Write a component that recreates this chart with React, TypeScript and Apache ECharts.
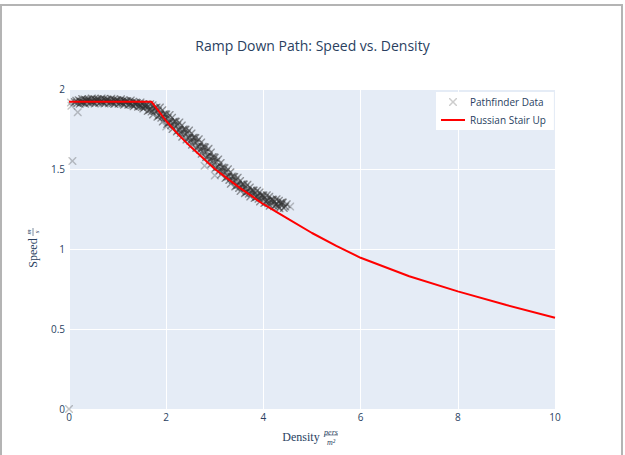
import React, { useEffect, useRef } from 'react';
import * as echarts from 'echarts';

const titleText = 'Ramp Down Path: Speed vs. Density';
const seriesNames = ['Pathfinder Data', 'Russian Stair Up'];
const xTickStep = 2;
const yTickStep = 0.5;

const russianDensity = [0, 1.7, 2.0, 2.25, 2.5, 2.75, 3.0, 3.5, 4.0, 4.5, 5.0, 5.5, 6.0, 7.0, 8.0, 9.0, 10.0];
const russianSpeed = [1.92, 1.92, 1.80, 1.715, 1.64, 1.57, 1.50, 1.385, 1.28, 1.19, 1.10, 1.02, 0.945, 0.83, 0.735, 0.65, 0.57];

const pathfinderOutliers: [number, number][] = [
  [0.0, 0.0], [0.07, 1.55], [0.18, 1.855], [0.05, 1.895], [0.04, 1.915],
  [2.0, 1.765], [2.79, 1.52], [3.0, 1.46], [4.55, 1.265],
];

const pathfinderBand: [number, number][] = [
  [0.12, 1.918], [0.15, 1.926], [0.17, 1.912],
  [0.20, 1.930], [0.22, 1.908], [0.23, 1.924], [0.25, 1.915], [0.27, 1.937], [0.28, 1.919],
  [0.30, 1.914], [0.32, 1.935], [0.33, 1.908], [0.35, 1.929], [0.37, 1.922], [0.38, 1.932],
  [0.40, 1.934], [0.42, 1.912], [0.43, 1.928], [0.45, 1.918], [0.47, 1.940], [0.48, 1.922],
  [0.50, 1.917], [0.52, 1.938], [0.53, 1.910], [0.55, 1.931], [0.57, 1.924], [0.58, 1.934],
  [0.60, 1.935], [0.62, 1.913], [0.63, 1.929], [0.65, 1.919], [0.67, 1.941], [0.68, 1.923],
  [0.70, 1.916], [0.72, 1.937], [0.73, 1.909], [0.75, 1.930], [0.77, 1.923], [0.78, 1.933],
  [0.80, 1.933], [0.82, 1.911], [0.83, 1.927], [0.85, 1.917], [0.87, 1.939], [0.88, 1.921],
  [0.90, 1.913], [0.92, 1.934], [0.93, 1.906], [0.95, 1.927], [0.97, 1.920], [0.98, 1.930],
  [1.00, 1.930], [1.02, 1.908], [1.03, 1.924], [1.05, 1.914], [1.07, 1.936], [1.08, 1.918],
  [1.10, 1.909], [1.12, 1.930], [1.13, 1.902], [1.15, 1.923], [1.17, 1.915], [1.18, 1.925],
  [1.20, 1.923], [1.22, 1.901], [1.23, 1.917], [1.25, 1.906], [1.27, 1.928], [1.28, 1.910],
  [1.30, 1.900], [1.32, 1.920], [1.33, 1.892], [1.35, 1.913], [1.37, 1.905], [1.38, 1.915],
  [1.40, 1.912], [1.42, 1.889], [1.43, 1.905], [1.45, 1.894], [1.47, 1.916], [1.48, 1.897],
  [1.50, 1.887], [1.52, 1.906], [1.53, 1.878], [1.55, 1.898], [1.57, 1.889], [1.58, 1.898],
  [1.60, 1.904], [1.62, 1.863], [1.63, 1.890], [1.65, 1.869], [1.67, 1.905], [1.68, 1.873],
  [1.70, 1.859], [1.72, 1.898], [1.73, 1.841], [1.75, 1.879], [1.77, 1.863], [1.78, 1.881],
  [1.80, 1.885], [1.82, 1.826], [1.83, 1.864], [1.85, 1.835], [1.87, 1.884], [1.88, 1.839],
  [1.90, 1.820], [1.92, 1.867], [1.93, 1.797], [1.95, 1.842], [1.97, 1.821], [1.98, 1.842],
  [2.00, 1.840], [2.02, 1.781], [2.03, 1.818], [2.05, 1.789], [2.07, 1.838], [2.08, 1.792],
  [2.10, 1.773], [2.12, 1.820], [2.13, 1.750], [2.15, 1.795], [2.17, 1.775], [2.18, 1.797],
  [2.20, 1.795], [2.22, 1.735], [2.23, 1.773], [2.25, 1.743], [2.27, 1.791], [2.28, 1.745],
  [2.30, 1.725], [2.32, 1.772], [2.33, 1.702], [2.35, 1.747], [2.37, 1.726], [2.38, 1.747],
  [2.40, 1.745], [2.42, 1.685], [2.43, 1.723], [2.45, 1.693], [2.47, 1.741], [2.48, 1.695],
  [2.50, 1.675], [2.52, 1.722], [2.53, 1.651], [2.55, 1.696], [2.57, 1.674], [2.58, 1.695],
  [2.60, 1.693], [2.62, 1.632], [2.63, 1.670], [2.65, 1.639], [2.67, 1.686], [2.68, 1.641],
  [2.70, 1.620], [2.72, 1.666], [2.73, 1.595], [2.75, 1.639], [2.77, 1.617], [2.78, 1.638],
  [2.80, 1.635], [2.82, 1.574], [2.83, 1.610], [2.85, 1.579], [2.87, 1.626], [2.88, 1.579],
  [2.90, 1.558], [2.92, 1.603], [2.93, 1.532], [2.95, 1.575], [2.97, 1.553], [2.98, 1.574],
  [3.00, 1.570], [3.02, 1.508], [3.03, 1.545], [3.05, 1.513], [3.07, 1.560], [3.08, 1.514],
  [3.10, 1.492], [3.12, 1.538], [3.13, 1.466], [3.15, 1.510], [3.17, 1.488], [3.18, 1.508],
  [3.20, 1.505], [3.22, 1.444], [3.23, 1.482], [3.25, 1.451], [3.27, 1.498], [3.28, 1.453],
  [3.30, 1.432], [3.32, 1.479], [3.33, 1.408], [3.35, 1.453], [3.37, 1.431], [3.38, 1.452],
  [3.40, 1.450], [3.42, 1.390], [3.43, 1.428], [3.45, 1.398], [3.47, 1.446], [3.48, 1.400],
  [3.50, 1.382], [3.52, 1.425], [3.53, 1.362], [3.55, 1.403], [3.57, 1.384], [3.58, 1.404],
  [3.60, 1.403], [3.62, 1.349], [3.63, 1.384], [3.65, 1.357], [3.67, 1.401], [3.68, 1.361],
  [3.70, 1.346], [3.72, 1.385], [3.73, 1.328], [3.75, 1.365], [3.77, 1.348], [3.78, 1.366],
  [3.80, 1.365], [3.82, 1.318], [3.83, 1.348], [3.85, 1.325], [3.87, 1.364], [3.88, 1.329],
  [3.90, 1.314], [3.92, 1.353], [3.93, 1.297], [3.95, 1.334], [3.97, 1.318], [3.98, 1.336],
  [4.00, 1.335], [4.02, 1.288], [4.03, 1.319], [4.05, 1.296], [4.07, 1.336], [4.08, 1.301],
  [4.10, 1.286], [4.12, 1.326], [4.13, 1.270], [4.15, 1.307], [4.17, 1.292], [4.18, 1.310],
  [4.20, 1.308], [4.22, 1.267], [4.23, 1.295], [4.25, 1.275], [4.27, 1.311], [4.28, 1.280],
  [4.30, 1.267], [4.32, 1.302], [4.33, 1.254], [4.35, 1.288], [4.37, 1.276], [4.38, 1.291],
  [4.40, 1.290], [4.42, 1.256], [4.45, 1.266], [4.48, 1.280],
];

const X_SYMBOL =
  'path://M0,0L1.3,0L5,3.7L8.7,0L10,0L10,1.3L6.3,5L10,8.7L10,10L8.7,10L5,6.3L1.3,10L0,10L0,8.7L3.7,5L0,1.3Z';
const LINE_ICON = 'path://M0,0L24,0L24,2L0,2Z';

const FONT = '"Open Sans", "Noto Sans", sans-serif';
const SERIF = '"Liberation Serif", "DejaVu Serif", serif';
const TEXT_COLOR = '#2a3f5f';

export default function App() {
  const ref = useRef<HTMLDivElement>(null);

  useEffect(() => {
    if (!ref.current) return;
    const chart = echarts.init(ref.current, null, { renderer: 'svg' });
    const lineData = russianDensity.map((d, i) => [d, russianSpeed[i]]);
    const scatterData = [
      ...pathfinderOutliers.map((p) => ({ value: p, itemStyle: { color: 'rgba(45,45,45,0.35)' } })),
      ...pathfinderBand.map((p) => ({ value: p })),
    ];

    chart.setOption({
      animation: false,
      backgroundColor: 'transparent',
      title: {
        text: titleText,
        left: 'center',
        top: 33,
        textStyle: { fontFamily: FONT, fontSize: 14, fontWeight: 'normal', color: TEXT_COLOR },
      },
      legend: {
        orient: 'vertical',
        left: 436,
        top: 92,
        padding: [4, 8, 4, 5],
        backgroundColor: '#ffffff',
        itemWidth: 24,
        itemHeight: 8,
        itemGap: 6,
        textStyle: { fontFamily: FONT, fontSize: 10, color: TEXT_COLOR, lineHeight: 12 },
        data: [
          { name: seriesNames[0], icon: X_SYMBOL, itemStyle: { color: 'rgba(45,45,45,0.3)' } },
          { name: seriesNames[1], icon: LINE_ICON, itemStyle: { color: '#ff0000' } },
        ],
      },
      grid: {
        left: 69,
        right: 70,
        top: 89,
        bottom: 46,
        show: true,
        backgroundColor: '#e5ecf6',
        borderWidth: 0,
        containLabel: false,
      },
      xAxis: {
        type: 'value',
        min: 0,
        max: 10,
        interval: xTickStep,
        axisLine: { show: false },
        axisTick: { show: false },
        axisLabel: { fontFamily: FONT, fontSize: 10, color: TEXT_COLOR, margin: 3 },
        splitLine: { show: true, lineStyle: { color: '#ffffff', width: 1 } },
      },
      yAxis: {
        type: 'value',
        min: 0,
        max: 2,
        interval: yTickStep,
        axisLine: { show: false },
        axisTick: { show: false },
        axisLabel: { fontFamily: FONT, fontSize: 10, color: TEXT_COLOR, margin: 4 },
        splitLine: { show: true, lineStyle: { color: '#ffffff', width: 1 } },
      },
      series: [
        {
          name: seriesNames[0],
          type: 'scatter',
          data: scatterData,
          symbol: X_SYMBOL,
          symbolSize: 8,
          itemStyle: { color: 'rgba(45,45,45,0.6)' },
          z: 2,
        },
        {
          name: seriesNames[1],
          type: 'line',
          data: lineData,
          symbol: 'none',
          showSymbol: false,
          itemStyle: { color: '#ff0000' },
          lineStyle: { color: '#ff0000', width: 2 },
          z: 3,
        },
      ],
      graphic: [
        {
          type: 'group',
          x: 301,
          y: 437,
          children: [
            { type: 'text', x: 0, y: 0, style: { text: 'Density', font: `12px ${SERIF}`, fill: TEXT_COLOR, align: 'center', verticalAlign: 'middle' } },
            { type: 'text', x: 30, y: -5, style: { text: 'pers', font: `italic 8px ${SERIF}`, fill: TEXT_COLOR, align: 'center', verticalAlign: 'middle' } },
            { type: 'line', shape: { x1: 23, y1: -2, x2: 37, y2: -2 }, style: { stroke: TEXT_COLOR, lineWidth: 0.6 } },
            { type: 'text', x: 30, y: 5, style: { text: 'm²', font: `italic 8px ${SERIF}`, fill: TEXT_COLOR, align: 'center', verticalAlign: 'middle' } },
          ],
        },
        {
          type: 'group',
          x: 33,
          y: 253,
          rotation: Math.PI / 2,
          children: [
            { type: 'text', x: 0, y: 0, style: { text: 'Speed', font: `12px ${SERIF}`, fill: TEXT_COLOR, align: 'center', verticalAlign: 'middle' } },
            { type: 'text', x: 21, y: -4, style: { text: 'm', font: `italic 7px ${SERIF}`, fill: TEXT_COLOR, align: 'center', verticalAlign: 'middle' } },
            { type: 'line', shape: { x1: 17, y1: 0, x2: 25, y2: 0 }, style: { stroke: TEXT_COLOR, lineWidth: 0.6 } },
            { type: 'text', x: 21, y: 4, style: { text: 's', font: `italic 7px ${SERIF}`, fill: TEXT_COLOR, align: 'center', verticalAlign: 'middle' } },
          ],
        },
      ],
    });

    return () => chart.dispose();
  }, []);

  return (
    <div style={{ position: 'absolute', left: 0, top: 0, width: 625, height: 455, overflow: 'hidden', background: '#ffffff' }}>
      <div
        style={{
          position: 'absolute',
          left: 0,
          top: 4,
          width: 619,
          height: 600,
          borderTop: '2px solid #b4b4b4',
          borderLeft: '2px solid #b4b4b4',
          borderRight: '2px solid #b4b4b4',
        }}
      />
      <div ref={ref} style={{ position: 'absolute', left: 0, top: 0, width: 625, height: 455 }} />
    </div>
  );
}
